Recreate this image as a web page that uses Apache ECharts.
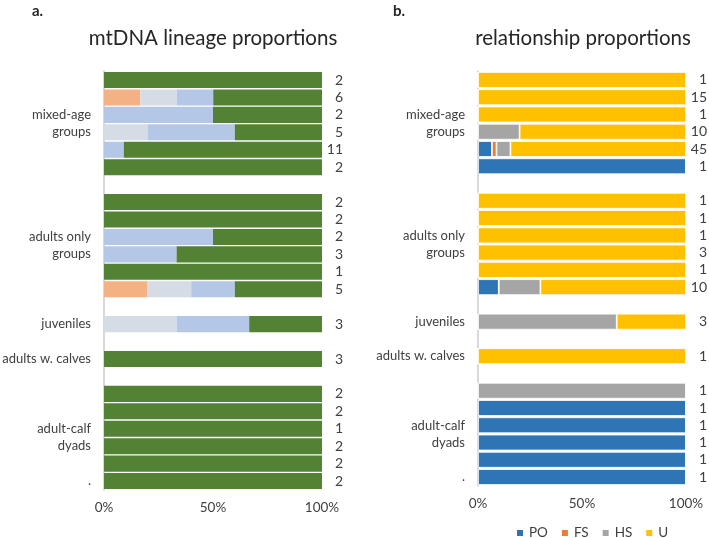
<!DOCTYPE html>
<html><head><meta charset="utf-8">
<script src="https://cdn.jsdelivr.net/npm/echarts@6/dist/echarts.min.js"></script>
<style>html,body{margin:0;padding:0;background:#fff}#c{width:709px;height:538px}</style>
</head><body><div id="c"></div>
<script>
// 24 row slots (null = blank spacer rows)
var slots = 24;
// Panel a: mtDNA lineage proportions (%)
var mtOrange = [0,16.7,0,0,0,0,null,0,0,0,0,0,20,null,0,null,0,null,0,0,0,0,0,0];
var mtGrey   = [0,16.7,0,20,0,0,null,0,0,0,0,0,20,null,33.3,null,0,null,0,0,0,0,0,0];
var mtBlue   = [0,16.7,50,40,9.1,0,null,0,0,50,33.3,0,20,null,33.3,null,0,null,0,0,0,0,0,0];
var mtGreen  = [100,49.9,50,40,90.9,100,null,100,100,50,66.7,100,40,null,33.4,null,100,null,100,100,100,100,100,100];
var mtCounts = ['2','6','2','5','11','2','','2','2','2','3','1','5','','3','','3','','2','2','1','2','2','2'];
// Panel b: relationship proportions (%)
var relPO = [0,0,0,0,6.7,100,null,0,0,0,0,0,10,null,0,null,0,null,0,100,100,100,100,100];
var relFS = [0,0,0,0,2.2,0,null,0,0,0,0,0,0,null,0,null,0,null,0,0,0,0,0,0];
var relHS = [0,0,0,20,6.7,0,null,0,0,0,0,0,20,null,66.7,null,0,null,100,0,0,0,0,0];
var relU  = [100,100,100,80,84.4,0,null,100,100,100,100,100,70,null,33.3,null,100,null,0,0,0,0,0,0];
var relCounts = ['1','15','1','10','45','1','','1','1','1','3','1','10','','3','','1','','1','1','1','1','1','1'];
// Group labels: name, first slot, last slot
var groups = [
  ['mixed-age\ngroups',0,5],
  ['adults only\ngroups',7,12],
  ['juveniles',14,14],
  ['adults w. calves',16,16],
  ['adult-calf\ndyads',18,23],
  ['.',23,23]
];
var xTicks = [0,50,100];

var slotCats = []; for (var i=0;i<slots;i++) slotCats.push(String(i));
var groupAt = {};
groups.forEach(function(g){ groupAt[((g[1]+g[2]+1)/2).toFixed(1)] = g[0]; });

var FONT = 'Lato';
var TXT = '#404040';
function catAxis(gi, counts){
  return {type:'category', gridIndex:gi, data:slotCats, inverse:true, position:'right',
    axisLine:{show:false}, axisTick:{show:false},
    axisLabel:{interval:0, margin:21, align:'right', fontSize:14, color:TXT, fontFamily:FONT,
      formatter:function(v,idx){return counts[idx];}}};
}
function grpAxis(gi){
  return {type:'value', gridIndex:gi, min:0, max:slots, interval:0.5, inverse:true, position:'left',
    axisLine:{show:true, lineStyle:{color:'#d9d9d9', width:2}}, axisTick:{show:false}, splitLine:{show:false},
    axisLabel:{margin:13, fontSize:13, lineHeight:17, color:TXT, fontFamily:FONT, align:'right',
      formatter:function(v){ var k=Number(v).toFixed(1); return groupAt[k]||''; }}};
}
function xAxis(gi){
  return {type:'value', gridIndex:gi, min:xTicks[0], max:xTicks[2], interval:xTicks[1]-xTicks[0],
    axisLine:{show:false}, axisTick:{show:false}, splitLine:{show:false},
    axisLabel:{margin:11, fontSize:13.5, color:TXT, fontFamily:FONT, formatter:'{value}%'}};
}
function bar(name, data, color, gi, stack, border){
  return {type:'bar', name:name, data:data, stack:stack, xAxisIndex:gi, yAxisIndex:gi*2,
    barCategoryGap:'8%', itemStyle:{color:color, borderColor:'#fff', borderWidth:border},
    emphasis:{disabled:true}, animation:false};
}

var chart = echarts.init(document.getElementById('c'), null, {renderer:'canvas'});
chart.setOption({
  animation:false,
  backgroundColor:'#fff',
  title:[
    {text:'a.', left:27, top:-1, textStyle:{fontSize:15, fontWeight:'bold', color:'#262626', fontFamily:FONT}},
    {text:'b.', left:388, top:-1, textStyle:{fontSize:15, fontWeight:'bold', color:'#262626', fontFamily:FONT}},
    {text:'mtDNA lineage proportions', left:208, textAlign:'center', top:23, textStyle:{fontSize:20.5, fontWeight:'normal', color:'#262626', fontFamily:FONT}},
    {text:'relationship proportions', left:578, textAlign:'center', top:23, textStyle:{fontSize:20.5, fontWeight:'normal', color:'#262626', fontFamily:FONT}}
  ],
  legend:{data:['PO','FS','HS','U'], left:510, top:521, icon:'rect', itemWidth:8, itemHeight:8, itemGap:12,
    textStyle:{fontSize:13.5, color:TXT, fontFamily:FONT}},
  grid:[
    {left:104, right:387, top:71.3, bottom:48.2, outerBoundsMode:'none', containLabel:false},
    {left:478, right:23, top:71.3, bottom:52.3, outerBoundsMode:'none', containLabel:false}
  ],
  xAxis:[xAxis(0), xAxis(1)],
  yAxis:[catAxis(0, mtCounts), grpAxis(0), catAxis(1, relCounts), grpAxis(1)],
  series:[
    bar('mtA', mtOrange, '#f4b183', 0, 'a', 0),
    bar('mtB', mtGrey, '#d6dce5', 0, 'a', 0),
    bar('mtC', mtBlue, '#b4c7e7', 0, 'a', 0),
    bar('mtD', mtGreen, '#548235', 0, 'a', 0),
    bar('PO', relPO, '#2e75b6', 1, 'b', 0.8),
    bar('FS', relFS, '#ed7d31', 1, 'b', 0.8),
    bar('HS', relHS, '#a5a5a5', 1, 'b', 0.8),
    bar('U', relU, '#ffc000', 1, 'b', 0.8)
  ]
});
</script></body></html>
